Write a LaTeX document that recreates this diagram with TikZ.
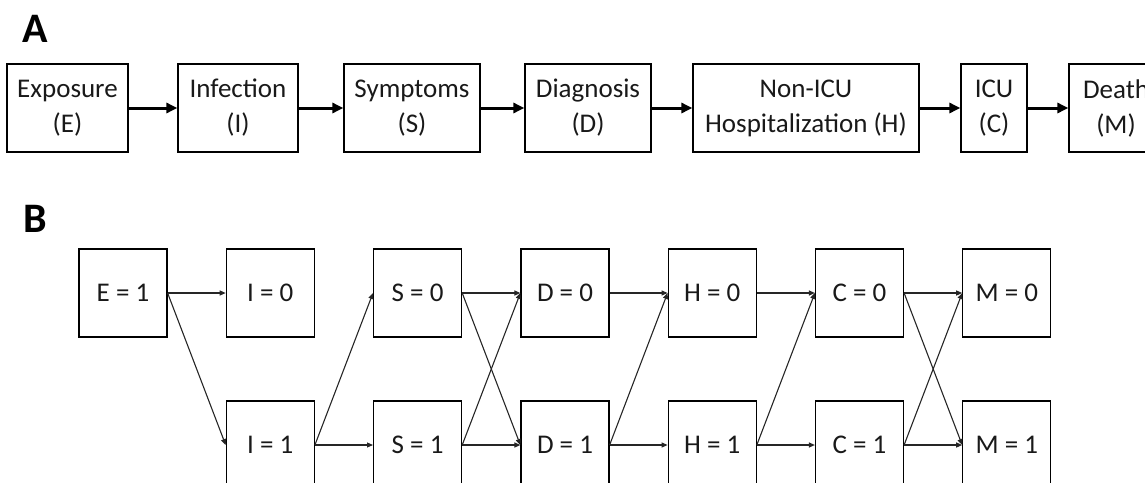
\documentclass[tikz,border=0pt]{standalone}
\usepackage{fontspec}
\setmainfont{Carlito}
\usetikzlibrary{arrows.meta}
\begin{document}
\begin{tikzpicture}[x=1pt,y=-1pt,
  abox/.style={draw=black,line width=1.2pt,minimum height=88pt,inner sep=0pt,align=center,font=\fontsize{27}{35}\selectfont,text=black!90},
  bbox/.style={draw=black,line width=1.2pt,minimum width=88pt,minimum height=88pt,inner sep=0pt,font=\fontsize{27}{33}\selectfont,text=black!90},
  panel/.style={anchor=base west,inner sep=0pt,font=\fontsize{42}{42}\selectfont\bfseries},
  thickarrow/.style={line width=3pt,-{Triangle[length=11pt,width=10pt]}},
  thinarrow/.style={line width=1.1pt,draw=black!85,-{Triangle[length=6pt,width=5pt]}}]
\useasboundingbox (0,0) rectangle (1145,482);
\clip (0,0) rectangle (1145,482);
% Panel labels
\node[panel] (labA) at (22,42) {A};
\node[panel] (labB) at (23,232) {B};
% Panel A
\node[abox,minimum width=121pt] (aE) at (67.5,108) {Exposure\\(E)};
\node[abox,minimum width=120pt] (aI) at (238,108) {Infection\\(I)};
\node[abox,minimum width=136pt] (aS) at (412,108) {Symptoms\\(S)};
\node[abox,minimum width=126pt] (aD) at (588,108) {Diagnosis\\(D)};
\node[abox,minimum width=226pt] (aH) at (806,108) {Non-ICU\\Hospitalization (H)};
\node[abox,minimum width=66pt] (aC) at (994,108) {ICU\\(C)};
\node[abox,minimum width=94pt] (aM) at (1116,108) {Death\\(M)};
\foreach \a/\b in {aE/aI,aI/aS,aS/aD,aD/aH,aH/aC,aC/aM}
  \draw[thickarrow] (\a.east) -- (\b.west);
% Panel B
\node[bbox] (E1) at (123,293) {E = 1};
\node[bbox] (I0) at (270.3,293) {I = 0};
\node[bbox] (I1) at (270.3,445) {I = 1};
\node[bbox] (S0) at (417.6,293) {S = 0};
\node[bbox] (S1) at (417.6,445) {S = 1};
\node[bbox] (D0) at (565,293) {D = 0};
\node[bbox] (D1) at (565,445) {D = 1};
\node[bbox] (H0) at (712.2,293) {H = 0};
\node[bbox] (H1) at (712.2,445) {H = 1};
\node[bbox] (C0) at (859.5,293) {C = 0};
\node[bbox] (C1) at (859.5,445) {C = 1};
\node[bbox] (M0) at (1006.8,293) {M = 0};
\node[bbox] (M1) at (1006.8,445) {M = 1};
\foreach \a/\b in {E1/I0,E1/I1,I1/S0,I1/S1,S0/D0,S0/D1,S1/D0,S1/D1,D0/H0,D1/H0,D1/H1,H0/C0,H1/C0,H1/C1,C0/M0,C0/M1,C1/M0,C1/M1}
  \draw[thinarrow] (\a.east) -- (\b.west);
\end{tikzpicture}
\end{document}
